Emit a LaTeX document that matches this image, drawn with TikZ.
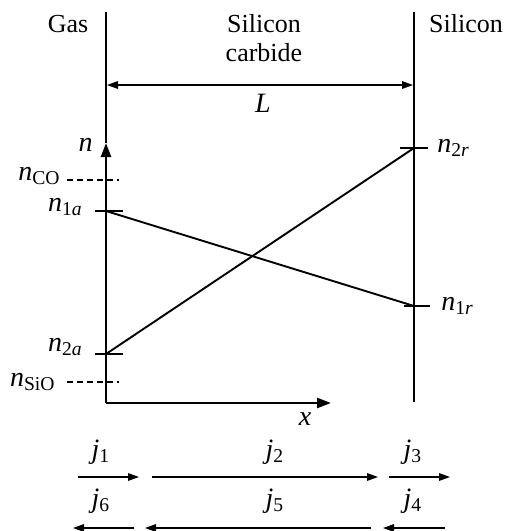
\documentclass[tikz,border=0pt]{standalone}
\usepackage{fontspec}
\setmainfont{Liberation Serif}
\usetikzlibrary{arrows.meta}
\newcommand{\nsb}[1]{\textit{n}\textsubscript{#1}}
\newcommand{\jsb}[1]{\textit{j}\textsubscript{#1}}
\begin{document}
\begin{tikzpicture}[x=0.5pt,y=-0.5pt,
  thinline/.style={line width=0.65pt},
  axisline/.style={line width=1.2pt},
  dataline/.style={line width=0.95pt},
  dashline/.style={line width=0.55pt, dash pattern=on 2.8pt off 2.2pt},
  tick/.style={line width=0.65pt},
  flux/.style={line width=0.7pt,-{Triangle[length=5.5pt,width=3.8pt]}},
  lbl/.style={font=\fontsize{13}{15}\selectfont, inner sep=0pt},
  mlbl/.style={font=\fontsize{14}{16}\selectfont, inner sep=0pt}]
\useasboundingbox (0,0) rectangle (508,531);
% boundaries
\coordinate (lt) at (106,12);
\coordinate (lb) at (106,143);
\coordinate (rt) at (414,12);
\coordinate (rb) at (414,402);
\draw[thinline] (lt) -- (lb);
\draw[thinline] (rt) -- (rb);
% region labels
\node[lbl, anchor=base] (gas) at (68,32) {Gas};
\node[lbl, anchor=base] (sic1) at (264,32) {Silicon};
\node[lbl, anchor=base] (sic2) at (264,61) {carbide};
\node[lbl, anchor=base] (si) at (466,32) {Silicon};
% L arrow
\coordinate (La) at (107,85);
\coordinate (Lb) at (413,85);
\draw[thinline,{Triangle[length=5.5pt,width=3.8pt]}-{Triangle[length=5.5pt,width=3.8pt]}] (La) -- (Lb);
\node[mlbl, anchor=base] (L) at (263,112) {\textit{L}};
% axes
\coordinate (O) at (106,403);
\coordinate (ntop) at (106,143);
\coordinate (xend) at (331,403);
\draw[axisline,-{Triangle[length=7pt,width=5pt]}] (O) -- (ntop);
\draw[axisline,-{Triangle[length=7pt,width=5pt]}] (O) -- (xend);
\node[mlbl, anchor=base east] (nlab) at (93,151) {\textit{n}};
\node[mlbl, anchor=base] (xlab) at (305,425) {\textit{x}};
% dashed levels
\coordinate (coa) at (67,180);
\coordinate (cob) at (119,180);
\draw[dashline] (coa) -- (cob);
\node[mlbl, anchor=base east] (nco) at (61,180) {\nsb{CO}};
\coordinate (sioa) at (67,382);
\coordinate (siob) at (119,382);
\draw[dashline] (sioa) -- (siob);
\node[mlbl, anchor=base east] (nsio) at (56,386) {\nsb{SiO}};
% concentration points
\coordinate (n1a) at (106,211);
\coordinate (n2a) at (106,354);
\coordinate (n1r) at (414,306);
\coordinate (n2r) at (414,148);
\draw[tick] ([xshift=-5.5pt]n1a) -- ([xshift=8.5pt]n1a);
\draw[tick] ([xshift=-5.5pt]n2a) -- ([xshift=8.5pt]n2a);
\draw[tick] ([xshift=-5pt]n1r) -- ([xshift=8pt]n1r);
\draw[tick] ([xshift=-7pt]n2r) -- ([xshift=7pt]n2r);
\draw[dataline] (n1a) -- (n1r);
\draw[dataline] (n2a) -- (n2r);
\node[mlbl, anchor=base east] (l1a) at (83,211) {\nsb{1\textit{a}}};
\node[mlbl, anchor=base east] (l2a) at (83,351) {\nsb{2\textit{a}}};
\node[mlbl, anchor=base west] (l2r) at (437,152) {\nsb{2\textit{r}}};
\node[mlbl, anchor=base west] (l1r) at (441,310) {\nsb{1\textit{r}}};
% fluxes
\coordinate (j1a) at (78,477);  \coordinate (j1b) at (139,477);
\coordinate (j2a) at (152,477); \coordinate (j2b) at (378,477);
\coordinate (j3a) at (389,477); \coordinate (j3b) at (450,477);
\coordinate (j6a) at (134,528); \coordinate (j6b) at (73,528);
\coordinate (j5a) at (371,528); \coordinate (j5b) at (145,528);
\coordinate (j4a) at (445,528); \coordinate (j4b) at (383,528);
\draw[flux] (j1a) -- (j1b);
\draw[flux] (j2a) -- (j2b);
\draw[flux] (j3a) -- (j3b);
\draw[flux] (j6a) -- (j6b);
\draw[flux] (j5a) -- (j5b);
\draw[flux] (j4a) -- (j4b);
\node[mlbl, anchor=base] (lj1) at (101,458) {\jsb{1}};
\node[mlbl, anchor=base] (lj2) at (275,458) {\jsb{2}};
\node[mlbl, anchor=base] (lj3) at (413,458) {\jsb{3}};
\node[mlbl, anchor=base] (lj6) at (101,507) {\jsb{6}};
\node[mlbl, anchor=base] (lj5) at (275,507) {\jsb{5}};
\node[mlbl, anchor=base] (lj4) at (413,507) {\jsb{4}};
\end{tikzpicture}
\end{document}
